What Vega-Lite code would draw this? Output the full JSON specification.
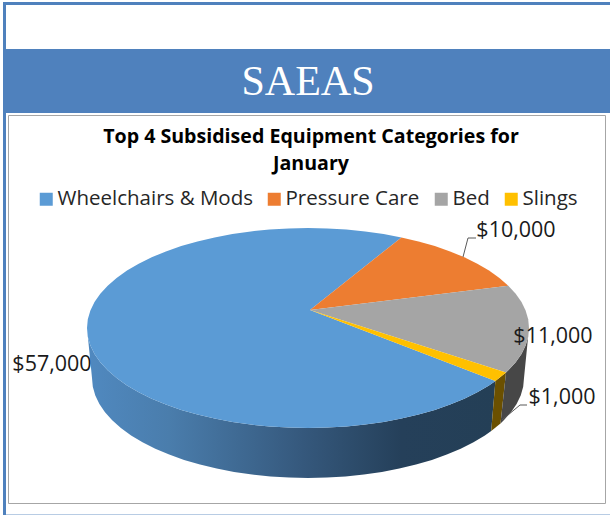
{
"$schema":"https://vega.github.io/schema/vega-lite/v6.json",
"width":610,"height":515,"padding":0,"autosize":{"type":"none"},"background":"white",
"config":{"view":{"stroke":null},"font":"Open Sans"},
"title":{"text":["Top 4 Subsidised Equipment Categories for","January"],"font":"Open Sans","fontSize":19.6,"fontWeight":"bold","color":"#000000","anchor":"middle","dx":6,"baseline":"top","offset":-125,"dy":50,"lineHeight":27},
"projection":{"type":"identity","scale":1,"translate":[308,328],"reflectY":false},
"layer":[
{"data":{"values":[
{"type":"Feature","properties":{"part":"top line"},"geometry":{"type":"Polygon","coordinates":[[[-305,-326],[302,-326],[302,-323],[-305,-323],[-305,-326]]]}},
{"type":"Feature","properties":{"part":"left line"},"geometry":{"type":"Polygon","coordinates":[[[-305,-326],[-302,-326],[-302,187],[-305,187],[-305,-326]]]}},
{"type":"Feature","properties":{"part":"banner"},"geometry":{"type":"Polygon","coordinates":[[[-305,-279],[302,-279],[302,-215],[-305,-215],[-305,-279]]]}}
]},"mark":{"type":"geoshape","fill":"#4f81bd","stroke":null}},
{"data":{"values":[
{"type":"Feature","properties":{"part":"bottom line"},"geometry":{"type":"Polygon","coordinates":[[[-302,186],[302,186],[302,187],[-302,187],[-302,186]]]}}
]},"mark":{"type":"geoshape","fill":"#b8cce4","stroke":null}},
{"data":{"values":[
{"type":"Feature","properties":{"part":"chart frame"},"geometry":{"type":"Polygon","coordinates":[[[-299.5,-212.5],[297.5,-212.5],[297.5,175.5],[-299.5,175.5],[-299.5,-212.5]]]}}
]},"mark":{"type":"geoshape","fill":"#ffffff","stroke":"#a6a6a6","strokeWidth":1}},
{"data":{"values":[
{"type":"Feature","properties":{"category":"Wheelchairs & Mods","face":"side"},"geometry":{"type":"Polygon","coordinates":[[[187.4,53],[181,57.4],[169.3,64.3],[156.3,70.7],[142.1,76.6],[126.8,81.9],[110.5,86.6],[93.4,90.6],[75.6,94],[57.2,96.6],[38.4,98.5],[19.3,99.6],[0,100],[-19.3,99.6],[-38.4,98.5],[-57.2,96.6],[-75.6,94],[-93.4,90.6],[-110.5,86.6],[-126.8,81.9],[-142.1,76.6],[-156.3,70.7],[-169.3,64.3],[-181,57.4],[-191.4,50],[-200.3,42.3],[-207.7,34.2],[-213.5,25.9],[-217.6,17.4],[-220.2,8.7],[-221,0],[-216,50],[-215.2,58.7],[-212.7,67.4],[-208.6,75.9],[-203,84.2],[-195.8,92.3],[-187.1,100],[-176.9,107.4],[-165.5,114.3],[-152.7,120.7],[-138.8,126.6],[-123.9,131.9],[-108,136.6],[-91.3,140.6],[-73.9,144],[-55.9,146.6],[-37.5,148.5],[-18.8,149.6],[0,150],[18.8,149.6],[37.5,148.5],[55.9,146.6],[73.9,144],[91.3,140.6],[108,136.6],[123.9,131.9],[138.8,126.6],[152.7,120.7],[165.5,114.3],[176.9,107.4],[183.2,103],[187.4,53]]]}}
]},"mark":{"type":"geoshape","stroke":null,"fill":{"gradient":"linear","x1":0,"y1":0,"x2":1,"y2":0,"stops":[{"offset":0,"color":"#5089c0"},{"offset":0.2,"color":"#4a7dac"},{"offset":0.53,"color":"#35587c"},{"offset":0.77,"color":"#25405a"},{"offset":1,"color":"#243f56"}]}}},
{"data":{"values":[
{"type":"Feature","properties":{"category":"Slings","face":"side"},"geometry":{"type":"Polygon","coordinates":[[[187.4,53],[198,44.6],[192.5,95.4],[183.2,103],[187.4,53]]]}}
]},"mark":{"type":"geoshape","fill":"#6b5000","stroke":null}},
{"data":{"values":[
{"type":"Feature","properties":{"category":"Bed","face":"side"},"geometry":{"type":"Polygon","coordinates":[[[198,44.6],[200.3,42.3],[207.7,34.2],[213.5,25.9],[217.6,17.4],[220.2,8.7],[221,0],[216,50],[215.2,58.7],[212.7,67.4],[208.6,75.9],[203,84.2],[195.8,92.3],[192.5,95.4],[198,44.6]]]}}
]},"mark":{"type":"geoshape","fill":"#474747","stroke":null}},
{"data":{"values":[
{"type":"Feature","properties":{"category":"Wheelchairs & Mods","amount":57000},"geometry":{"type":"Polygon","coordinates":[[[2,-18],[187.4,53],[181,57.4],[169.3,64.3],[156.3,70.7],[142.1,76.6],[126.8,81.9],[110.5,86.6],[93.4,90.6],[75.6,94],[57.2,96.6],[38.4,98.5],[19.3,99.6],[0,100],[-19.3,99.6],[-38.4,98.5],[-57.2,96.6],[-75.6,94],[-93.4,90.6],[-110.5,86.6],[-126.8,81.9],[-142.1,76.6],[-156.3,70.7],[-169.3,64.3],[-181,57.4],[-191.4,50],[-200.3,42.3],[-207.7,34.2],[-213.5,25.9],[-217.6,17.4],[-220.2,8.7],[-221,0],[-220.2,-8.7],[-217.6,-17.4],[-213.5,-25.9],[-207.7,-34.2],[-200.3,-42.3],[-191.4,-50],[-181,-57.4],[-169.3,-64.3],[-156.3,-70.7],[-142.1,-76.6],[-126.8,-81.9],[-110.5,-86.6],[-93.4,-90.6],[-75.6,-94],[-57.2,-96.6],[-38.4,-98.5],[-19.3,-99.6],[0,-100],[19.3,-99.6],[38.4,-98.5],[57.2,-96.6],[75.6,-94],[93.4,-90.6],[2,-18]]]}},
{"type":"Feature","properties":{"category":"Pressure Care","amount":10000},"geometry":{"type":"Polygon","coordinates":[[[2,-18],[93.4,-90.6],[110.5,-86.6],[126.8,-81.9],[142.1,-76.6],[156.3,-70.7],[169.3,-64.3],[181,-57.4],[191.4,-50],[200.3,-42.3],[2,-18]]]}},
{"type":"Feature","properties":{"category":"Bed","amount":11000},"geometry":{"type":"Polygon","coordinates":[[[2,-18],[200.3,-42.3],[207.7,-34.2],[213.5,-25.9],[217.6,-17.4],[220.2,-8.7],[221,0],[220.2,8.7],[217.6,17.4],[213.5,25.9],[207.7,34.2],[200.3,42.3],[198,44.6],[2,-18]]]}},
{"type":"Feature","properties":{"category":"Slings","amount":1000},"geometry":{"type":"Polygon","coordinates":[[[2,-18],[198,44.6],[187.4,53],[2,-18]]]}}
]},"mark":{"type":"geoshape","stroke":null},
"encoding":{"color":{"field":"properties.category","type":"nominal","scale":{"domain":["Wheelchairs & Mods","Pressure Care","Bed","Slings"],"range":["#5b9bd5","#ed7d31","#a5a5a5","#ffc000"]},
"legend":{"title":null,"orient":"none","legendX":36,"legendY":189,"direction":"horizontal","columns":4,"gridAlign":"none","columnPadding":11,"padding":0,"symbolType":"square","symbolSize":169,"symbolStrokeWidth":0,"labelFont":"Open Sans","labelFontSize":20.5,"labelColor":"#262626","labelOffset":1,"labelLimit":400}}}},
{"data":{"values":[
{"type":"Feature","properties":{"category":"Pressure Care"},"geometry":{"type":"LineString","coordinates":[[155,-71],[160,-90],[168,-90]]}},
{"type":"Feature","properties":{"category":"Slings"},"geometry":{"type":"LineString","coordinates":[[194,92],[212,77],[219,77]]}}
]},"mark":{"type":"geoshape","filled":false,"stroke":"#595959","strokeWidth":1}},
{"data":{"values":[
{"category":"Wheelchairs & Mods","amount":57000,"lon":-256,"lat":37},
{"category":"Pressure Care","amount":10000,"lon":208,"lat":-97},
{"category":"Bed","amount":11000,"lon":245,"lat":9},
{"category":"Slings","amount":1000,"lon":254,"lat":70}
]},"mark":{"type":"text","font":"Open Sans","fontSize":21.5,"color":"#1a1a1a","align":"center","baseline":"middle"},
"encoding":{"longitude":{"field":"lon","type":"quantitative"},"latitude":{"field":"lat","type":"quantitative"},"text":{"field":"amount","type":"quantitative","format":"$,.0f"}}},
{"data":{"values":[{"label":"SAEAS","lon":0,"lat":-246}]},
"mark":{"type":"text","font":"Liberation Serif","fontSize":42,"color":"#ffffff","align":"center","baseline":"middle"},
"encoding":{"longitude":{"field":"lon","type":"quantitative"},"latitude":{"field":"lat","type":"quantitative"},"text":{"field":"label","type":"nominal"}}}
]}
